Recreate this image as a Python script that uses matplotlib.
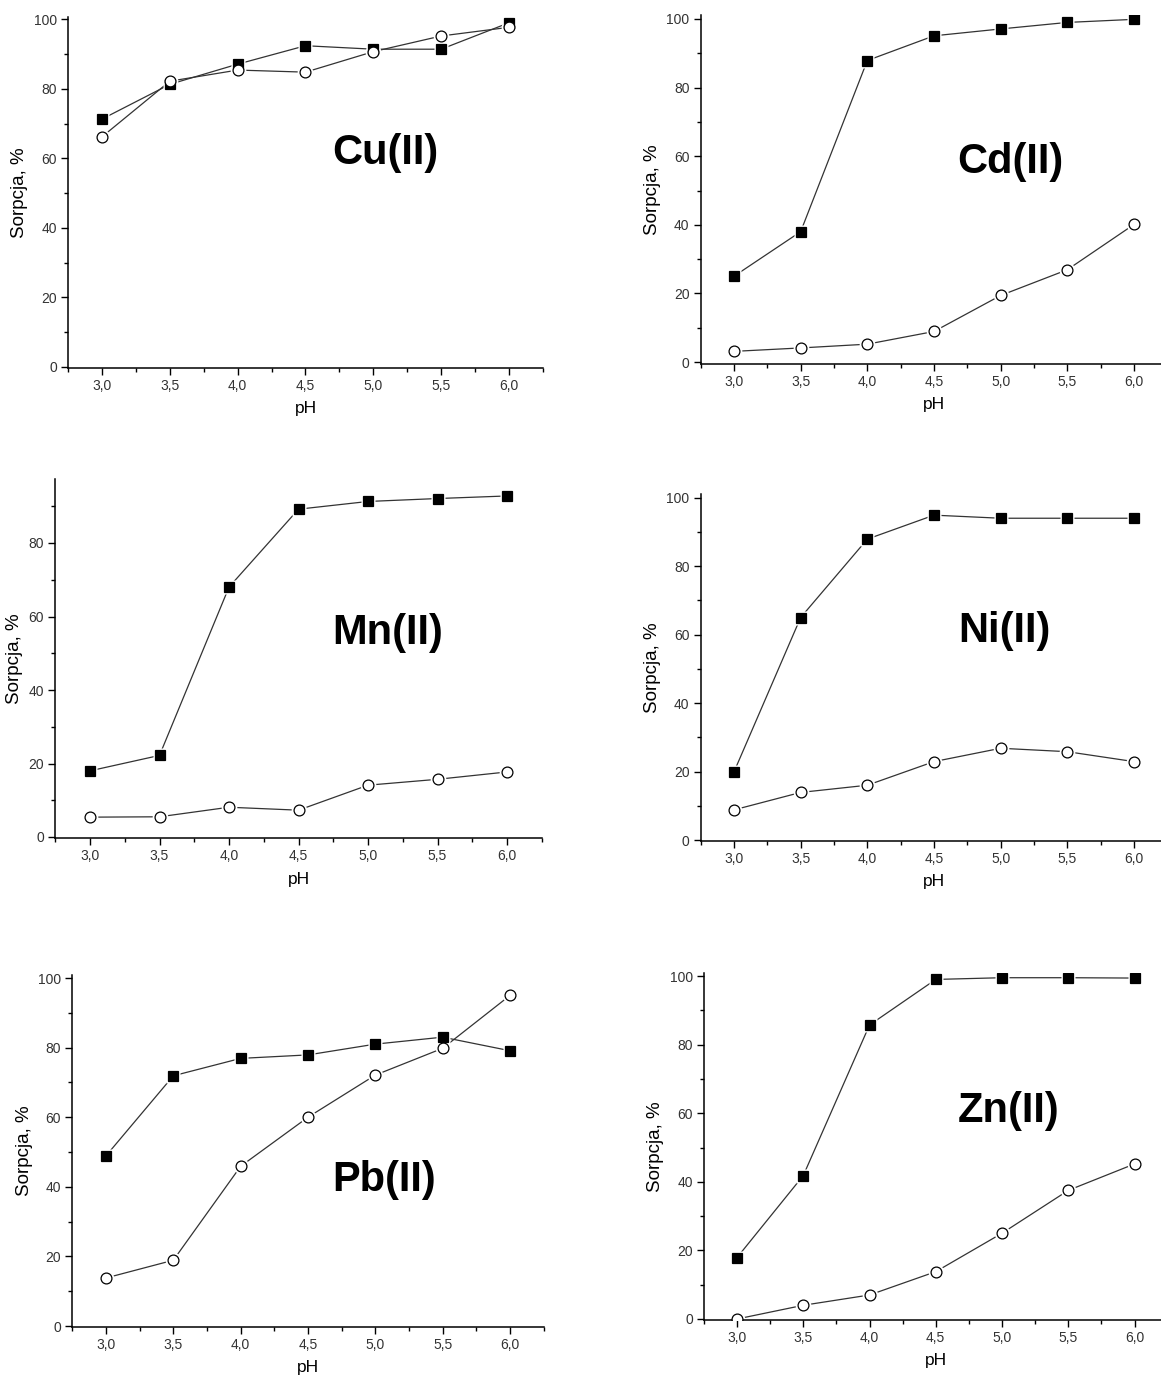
import matplotlib
matplotlib.use("Agg")
import matplotlib.pyplot as plt
from matplotlib.ticker import MultipleLocator, FuncFormatter

plt.rcParams["font.family"] = ["Liberation Sans", "DejaVu Sans"]

ph = [3.0, 3.5, 4.0, 4.5, 5.0, 5.5, 6.0]

metals = ["Cu(II)", "Cd(II)", "Mn(II)", "Ni(II)", "Pb(II)", "Zn(II)"]

# filled squares
cu_sq = [71.3, 81.3, 87.1, 92.4, 91.4, 91.4, 99.0]
cd_sq = [25.0, 38.0, 87.9, 95.1, 97.1, 99.0, 99.9]
mn_sq = [18.0, 22.2, 68.0, 89.2, 91.3, 92.1, 92.8]
ni_sq = [19.9, 65.0, 87.9, 94.9, 94.0, 94.0, 94.0]
pb_sq = [48.9, 71.9, 76.9, 77.9, 81.0, 83.0, 79.1]
zn_sq = [17.9, 41.8, 85.7, 99.0, 99.5, 99.5, 99.4]

# open circles
cu_ci = [66.2, 82.2, 85.4, 84.8, 90.7, 95.2, 97.7]
cd_ci = [3.1, 4.1, 5.2, 8.9, 19.4, 26.9, 40.1]
mn_ci = [5.4, 5.5, 8.1, 7.3, 14.1, 15.7, 17.7]
ni_ci = [8.8, 13.9, 16.0, 22.9, 26.8, 25.8, 22.9]
pb_ci = [13.8, 18.9, 45.9, 60.0, 72.1, 79.8, 95.0]
zn_ci = [0.0, 4.0, 7.0, 13.8, 25.0, 37.5, 45.2]

squares = [cu_sq, cd_sq, mn_sq, ni_sq, pb_sq, zn_sq]
circles = [cu_ci, cd_ci, mn_ci, ni_ci, pb_ci, zn_ci]

W, H = 1161, 1378

# layout in pixels: x of pH 3.0, x of pH 6.0, y of 0, (anchor value, anchor y), ylim
layout = [
    (102, 509, 367, (100, 19.3), (-0.3, 100.7)),
    (734, 1134, 362, (100, 19), (-0.5, 101.2)),
    (90, 507, 837, (80, 543), (-0.3, 97.5)),
    (734, 1134, 840, (100, 497.7), (-0.3, 101)),
    (106, 510, 1326, (100, 978), (-0.3, 101)),
    (737, 1134.5, 1319, (100, 976), (-0.3, 101)),
]

# label centres in pixels
label_pos = [(385, 153), (1010, 162), (388, 633), (1004, 631), (384, 1180), (1009, 1111)]

fig = plt.figure(figsize=(W / 100, H / 100), dpi=100)

comma = FuncFormatter(lambda v, p: f"{v:.1f}".replace(".", ","))

for i in range(6):
    x3, x6, y0, (va, yap), (ybot, ytop) = layout[i]
    unit = (x6 - x3) / 3
    yunit = (y0 - yap) / va
    left = x3 - 0.25 * unit
    right = x6 + 0.25 * unit
    top = y0 - ytop * yunit
    bottom = y0 - ybot * yunit
    ax = fig.add_axes([left / W, 1 - bottom / H, (right - left) / W, (bottom - top) / H])

    for vals, mk, ms, fc in [(squares[i], "s", 6.8, "black"), (circles[i], "o", 7.8, "white")]:
        ax.plot(ph, vals, color="#333333", lw=0.9, zorder=1)
        ax.plot(ph, vals, ls="none", marker=mk, ms=ms + 3.5, mfc="white", mec="none", zorder=2)
        ax.plot(ph, vals, ls="none", marker=mk, ms=ms, mfc=fc, mec="black", mew=0.9, zorder=3)

    ax.set_xlim(2.75, 6.25)
    ax.set_ylim(ybot, ytop)
    ax.xaxis.set_major_locator(MultipleLocator(0.5))
    ax.xaxis.set_minor_locator(MultipleLocator(0.25))
    ax.yaxis.set_major_locator(MultipleLocator(20))
    ax.yaxis.set_minor_locator(MultipleLocator(10))
    ax.xaxis.set_major_formatter(comma)

    for s in ["top", "right"]:
        ax.spines[s].set_visible(False)
    for s in ["left", "bottom"]:
        ax.spines[s].set_linewidth(1.1)
    ax.tick_params(which="major", direction="out", length=5, width=1, labelsize=10,
                   labelcolor="#333333", pad=3)
    ax.tick_params(which="minor", direction="out", length=3, width=1)

    ax.set_xlabel("pH", fontsize=12.5, labelpad=6)
    ax.set_ylabel("Sorpcja, %", fontsize=13.5, labelpad=4)
    ax.patch.set_alpha(0)

    lx, ly = label_pos[i]
    fig.text(lx / W, 1 - ly / H, metals[i], fontsize=30, fontweight="bold",
             ha="center", va="center")

fig.savefig("out.png", dpi=100)
